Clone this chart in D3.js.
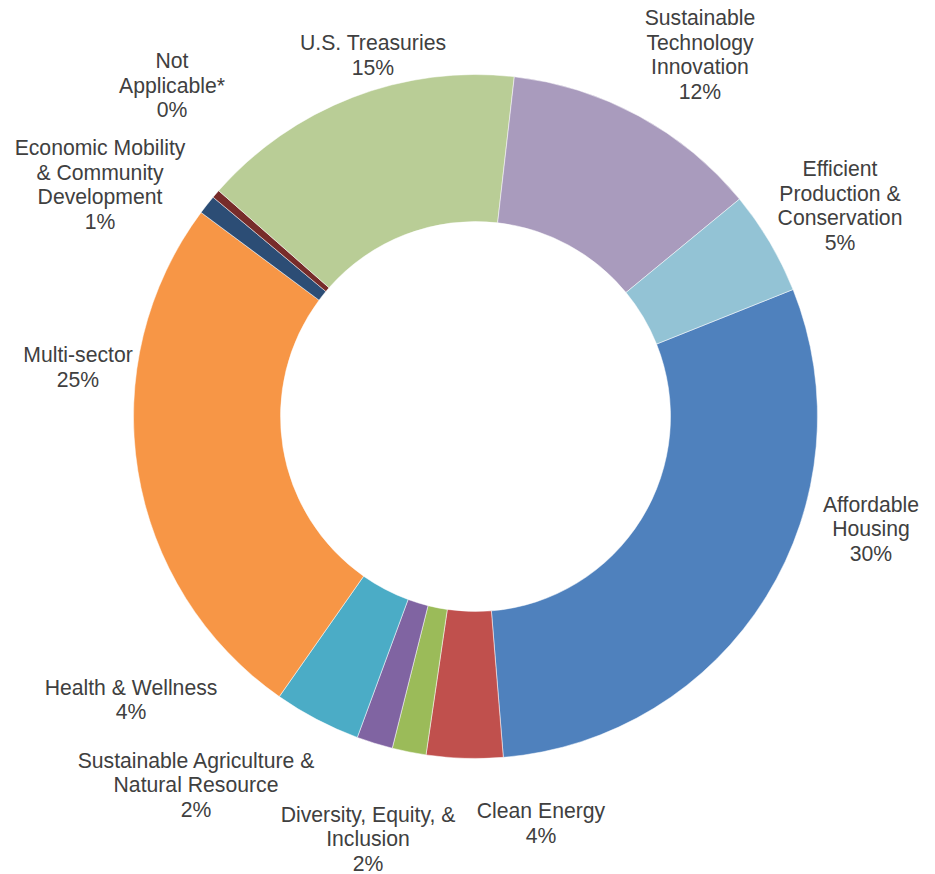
<!DOCTYPE html>
<html>
<head>
<meta charset="utf-8">
<script src="https://cdn.jsdelivr.net/npm/d3@7"></script>
<style>
  body { margin: 0; background: #fff; }
  text { font-family: "Liberation Sans", Arial, sans-serif; fill: #404040; }
</style>
</head>
<body>
<svg id="chart"></svg>
<script>
// slices in clockwise order, first one starts at the "angle of first slice"
const categories = [
  "Affordable\nHousing",
  "Clean Energy",
  "Diversity, Equity, &\nInclusion",
  "Sustainable Agriculture &\nNatural Resource",
  "Health & Wellness",
  "Multi-sector",
  "Economic Mobility\n& Community\nDevelopment",
  "Not\nApplicable*",
  "U.S. Treasuries",
  "Sustainable\nTechnology\nInnovation",
  "Efficient\nProduction &\nConservation"
];
const values = [29.7, 3.6, 1.6, 1.7, 4.1, 25.4, 0.9, 0.4, 15.3, 12.2, 4.9];
const colors = ["#4f81bd", "#c0504d", "#9bbb59", "#8064a2", "#4bacc6", "#f79646",
                "#2c4d75", "#772c2a", "#b9cd96", "#a99bbd", "#93c3d5"];

// label block centres relative to the donut centre (best-fit placement)
const labelOffsets = [
  [395.5, 112.5], [65.5, 406.5], [-107.5, 422.5], [-279.5, 368.5], [-344.5, 283],
  [-397.5, -49.5], [-375.5, -232], [-303.5, -331], [-102.5, -361.5], [224.5, -362],
  [364.5, -211]
];

const width = 935, height = 874;
const cx = 475.5, cy = 416.5;
const outerR = 342, innerR = 195;
const firstAngle = 68.2 * Math.PI / 180;
const lineH = 24.5;

const svg = d3.select("#chart").attr("width", width).attr("height", height);
const g = svg.append("g").attr("transform", `translate(${cx}, ${cy})`);

const data = categories.map((c, i) => ({ name: c, value: values[i], i: i }));
const total = d3.sum(values);
const pct = d3.format(".0%");

const pie = d3.pie()
  .sort(null)
  .value(d => d.value)
  .startAngle(firstAngle)
  .endAngle(firstAngle + 2 * Math.PI);

const arc = d3.arc().innerRadius(innerR).outerRadius(outerR);

g.selectAll("path.slice")
  .data(pie(data))
  .enter()
  .append("path")
    .attr("class", "slice")
    .attr("d", arc)
    .style("fill", d => colors[d.data.i])
    .style("stroke", "#ffffff")
    .style("stroke-width", 0.5);

const labels = g.selectAll("text.lbl")
  .data(data)
  .enter()
  .append("text")
    .attr("class", "lbl")
    .attr("text-anchor", "middle")
    .style("font-size", "21.2px");

labels.each(function(d) {
  const lines = d.name.split("\n").concat([pct(d.value / total)]);
  const [ox, oy] = labelOffsets[d.i];
  const t = d3.select(this);
  lines.forEach((ln, k) => {
    t.append("tspan")
      .attr("x", ox)
      .attr("y", oy + (k - (lines.length - 1) / 2) * lineH + 7.4)
      .text(ln);
  });
});
</script>
</body>
</html>
